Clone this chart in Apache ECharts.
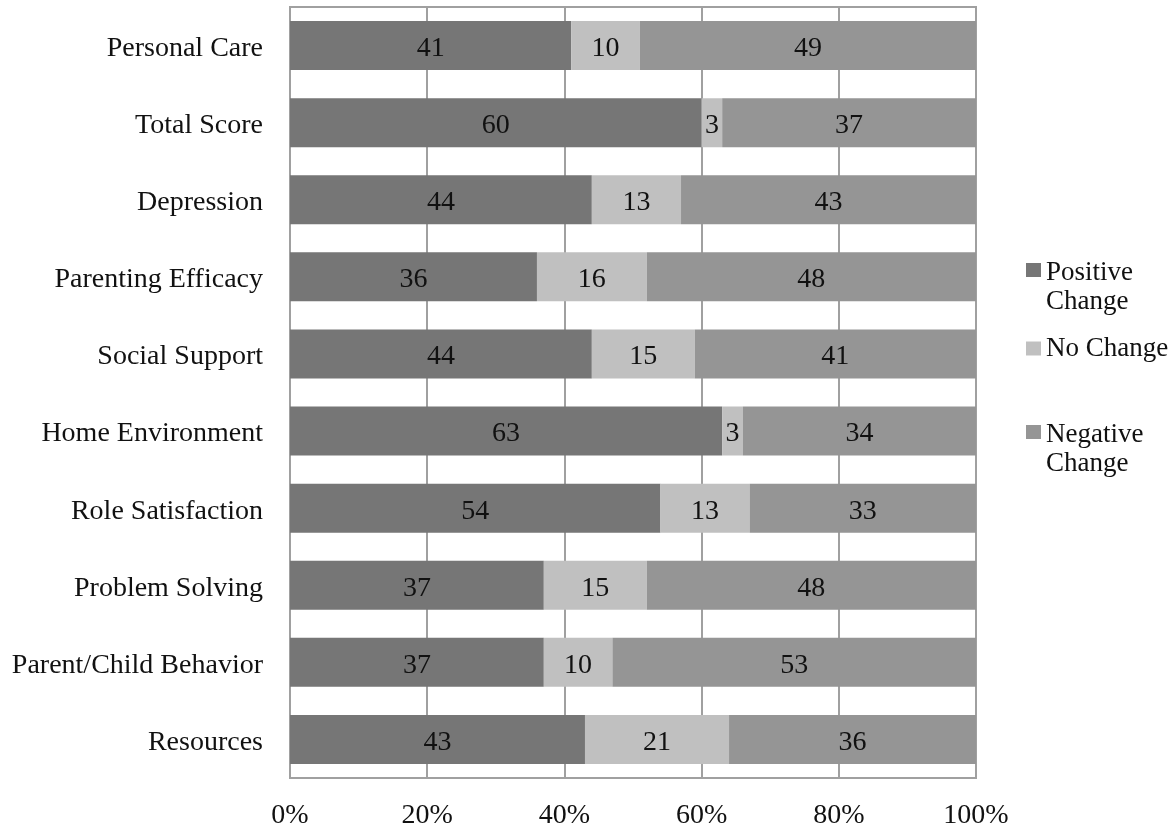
<!DOCTYPE html>
<html><head><meta charset="utf-8">
<script src="https://cdn.jsdelivr.net/npm/echarts@6/dist/echarts.min.js"></script>
<style>html,body{margin:0;padding:0;background:#fff}#c{width:1172px;height:829px}</style>
</head><body><div id="c"></div>
<script>
const categories = ['Personal Care','Total Score','Depression','Parenting Efficacy','Social Support','Home Environment','Role Satisfaction','Problem Solving','Parent/Child Behavior','Resources'];
const positiveChange = [41,60,44,36,44,63,54,37,37,43];
const noChange = [10,3,13,16,15,3,13,15,10,21];
const negativeChange = [49,37,43,48,41,34,33,48,53,36];
const tickLabels = ['0%','20%','40%','60%','80%','100%'];
const seriesNames = ['Positive Change','No Change','Negative Change'];
const legendLabels = ['{s| }\n{a|Positive}\n{a|Change}', 'No Change', '{s| }\n{a|Negative}\n{a|Change}'];
const colors = ['#767676','#c0c0c0','#959595'];

const FONT = 'Liberation Serif';
const FS = 28;
const LH = 29;
const chart = echarts.init(document.getElementById('c'));
const lbl = {show:true, position:'inside', offset:[0,3], color:'#111', fontFamily:FONT, fontSize:FS};
const mk = (name, data, i) => ({
  name, type:'bar', stack:'t', data, barCategoryGap:'36.5%',
  itemStyle:{color:colors[i]}, label:lbl, emphasis:{disabled:true}, animation:false
});
const legendText = {fontFamily:FONT, fontSize:27, color:'#111', lineHeight:LH,
  rich:{s:{fontFamily:FONT, fontSize:27, lineHeight:35}, a:{fontFamily:FONT, fontSize:27, color:'#111', lineHeight:LH}}};
const legBase = {left:1026, padding:0, icon:'rect', itemWidth:15, itemHeight:14, selectedMode:false, textStyle:legendText};
chart.setOption({
  animation:false,
  grid:{left:290, right:196, top:7, bottom:51, show:true, borderColor:'#a0a0a0', borderWidth:2, outerBoundsMode:'none', containLabel:false},
  xAxis:{type:'value', min:0, max:100, interval:20,
    axisLine:{show:false}, axisTick:{show:false},
    splitLine:{lineStyle:{color:'#a0a0a0', width:2}},
    axisLabel:{formatter:(v)=>tickLabels[v/20], fontFamily:FONT, fontSize:FS, color:'#111', margin:24}},
  yAxis:{type:'category', data:categories, inverse:true,
    axisLine:{show:false}, axisTick:{show:false},
    splitLine:{show:false},
    axisLabel:{fontFamily:FONT, fontSize:FS, color:'#111', margin:27, verticalAlign:'top', lineHeight:6}},
  legend:[
    Object.assign({data:[seriesNames[0]], top:223.5, formatter:()=>legendLabels[0]}, legBase),
    Object.assign({data:[seriesNames[1]], top:334, formatter:()=>legendLabels[1]}, legBase),
    Object.assign({data:[seriesNames[2]], top:385.5, formatter:()=>legendLabels[2]}, legBase)
  ],
  series:[mk(seriesNames[0],positiveChange,0), mk(seriesNames[1],noChange,1), mk(seriesNames[2],negativeChange,2)]
});
</script></body></html>
